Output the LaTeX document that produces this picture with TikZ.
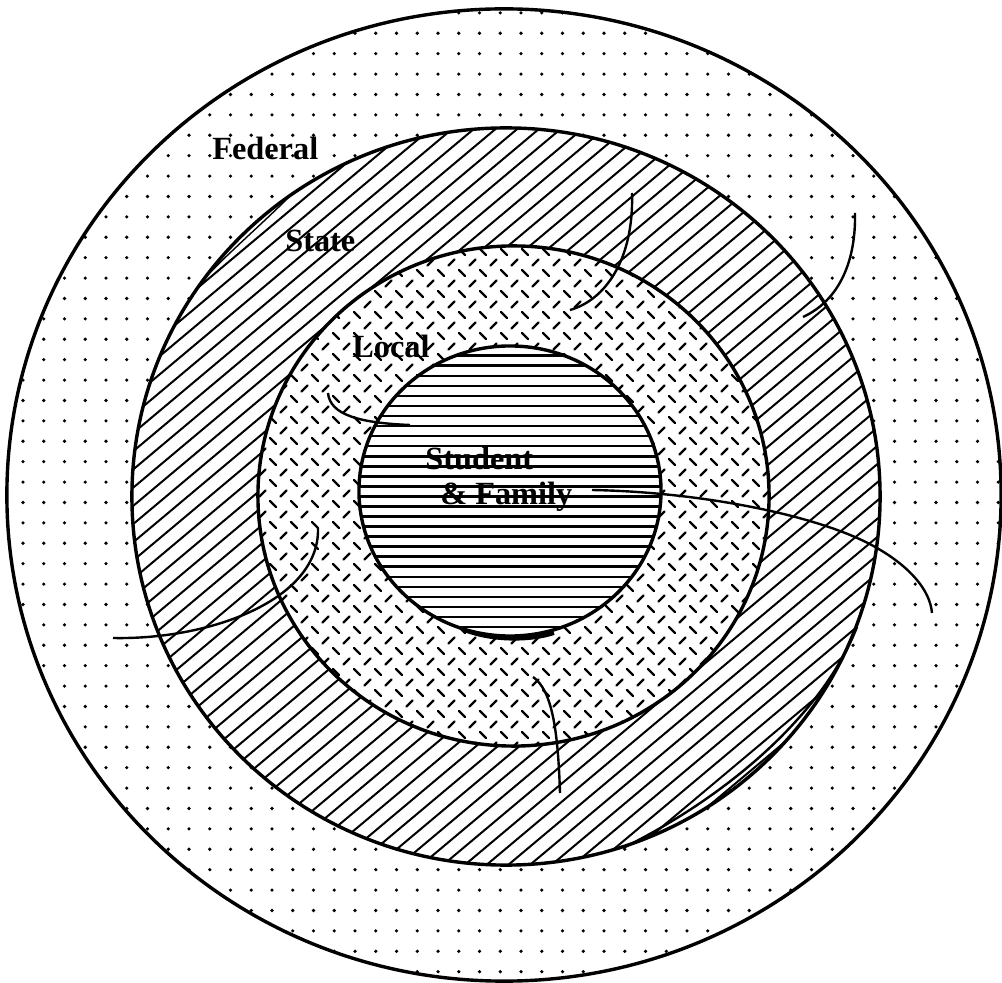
\documentclass[tikz,border=0pt]{standalone}
\usepackage{fontspec}
\setmainfont{Liberation Serif}
\begin{document}
\begin{tikzpicture}[x=0.025cm, y=-0.025cm,
    ring/.style={line width=0.085cm},
    hatch/.style={line width=0.05cm},
    hline/.style={line width=0.065cm},
    dashmark/.style={line width=0.06cm, line cap=round},
    strand/.style={line width=0.06cm},
    lbl/.style={font=\fontsize{23}{27}\selectfont\bfseries, anchor=base west, inner sep=0pt}
]
\useasboundingbox (0,0) rectangle (1002,983);

% federal ring: dots
\begin{scope}
\clip (504,495) ellipse [x radius=12.425cm, y radius=12.15cm];
\foreach \i in {-1,...,47}
  \foreach \j in {-1,...,46}
    \fill (23+\i*20.75, 33.3+\j*20.4) circle [radius=0.045cm];
\end{scope}

% state ring: slanted hatch
\begin{scope}
\clip (506,496.5) ellipse [x radius=9.35cm, y radius=9.2125cm];
\fill[white] (0,0) rectangle (1002,983);
\foreach \k in {-42,...,34}
  \draw[hatch] (\k*21.7,1000) -- ++(1200,-1006.9);
\end{scope}

% local ring: dashes
\begin{scope}
\clip (513.5,496) ellipse [x radius=6.3875cm, y radius=6.25cm];
\fill[white] (0,0) rectangle (1002,983);
\foreach \i in {12,...,37}
  \foreach \j in {11,...,36} {
    \draw[dashmark] (\i*21-3, \j*21-3) -- ++(6,6);
    \draw[dashmark] (\i*21+7.5, \j*21+13.5) -- ++(6,-6);
  }
\end{scope}

% student: horizontal lines
\begin{scope}
\clip (510,491) ellipse [x radius=3.775cm, y radius=3.625cm];
\fill[white] (0,0) rectangle (1002,983);
\foreach \k in {-6,...,23}
  \draw[hline] (350,406+\k*10.05) -- (670,406+\k*10.05);
\end{scope}

% outlines
\draw[ring] (504,495) ellipse [x radius=12.425cm, y radius=12.15cm];
\draw[ring] (506,496.5) ellipse [x radius=9.35cm, y radius=9.2125cm];
\draw[ring] (513.5,496) ellipse [x radius=6.3875cm, y radius=6.25cm];
\draw[ring] (510,491) ellipse [x radius=3.775cm, y radius=3.625cm];

% loose strands
\draw[strand] (632,193) .. controls (634,260) and (605,300) .. (570,310);
\draw[strand] (855,213) .. controls (856,260) and (840,300) .. (803,317);
\draw[strand] (328,393) .. controls (330,415) and (360,423) .. (410,425);
\draw[strand] (113,638) .. controls (210,640) and (320,600) .. (318,528);
\draw[strand] (592,490) .. controls (700,492) and (820,515) .. (877,548)
              .. controls (910,567) and (930,590) .. (932,613);
\draw[strand] (533,677) .. controls (552,690) and (558,730) .. (560,793);
\draw[strand] (623,848) .. controls (720,800) and (820,720) .. (857,627);
\draw[line width=0.035cm] (205,278) .. controls (225,256) and (262,224) .. (290,196);
\draw[line width=0.1cm] (462,629) .. controls (490,641) and (530,641) .. (554,633);

% labels
\node[lbl] (federal) at (212,160) {Federal};
\node[lbl] (state) at (285,252) {State};
\node[lbl] (local) at (352,358) {Local};
\node[lbl] (student) at (425,470) {Student};
\node[lbl] (family) at (440,505) {\& Family};
\end{tikzpicture}
\end{document}
